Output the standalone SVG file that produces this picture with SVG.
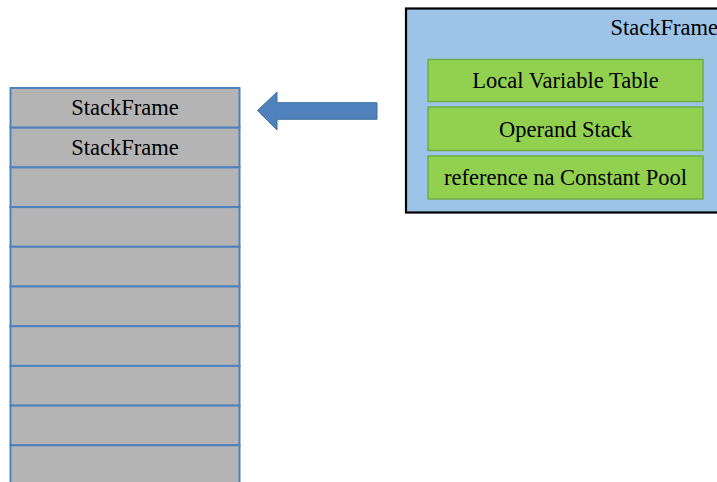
<svg xmlns="http://www.w3.org/2000/svg" width="717" height="482" viewBox="0 0 717 482">
<style>
.cell{fill:#b4b4b4;stroke:#4f81bd;stroke-width:2}
.t{font-size:22.5px;fill:#000;text-anchor:middle}
.g{fill:#92d050;stroke:#70ad47;stroke-width:1.5}
</style>
<rect width="717" height="482" fill="#fff"/>
<g id="stack">
<rect class="cell" x="10.5" y="88" width="229" height="39.7"/>
<rect class="cell" x="10.5" y="127.7" width="229" height="39.7"/>
<rect class="cell" x="10.5" y="167.4" width="229" height="39.7"/>
<rect class="cell" x="10.5" y="207.1" width="229" height="39.7"/>
<rect class="cell" x="10.5" y="246.8" width="229" height="39.7"/>
<rect class="cell" x="10.5" y="286.5" width="229" height="39.7"/>
<rect class="cell" x="10.5" y="326.2" width="229" height="39.7"/>
<rect class="cell" x="10.5" y="365.9" width="229" height="39.7"/>
<rect class="cell" x="10.5" y="405.6" width="229" height="39.7"/>
<rect class="cell" x="10.5" y="445.3" width="229" height="39.7"/>
<text class="t" x="125" y="115" font-family="Liberation Serif, serif">StackFrame</text>
<text class="t" x="125" y="155" font-family="Liberation Serif, serif">StackFrame</text>
</g>
<g id="connectors">
<path d="M377,102.7 L277,102.7 L277,92 L257.5,110.5 L277,130 L277,119.3 L377,119.3 Z" fill="#4f81bd" stroke="#41719c" stroke-width="1"/>
</g>
<g id="frame">
<rect x="406" y="8.5" width="320" height="204" fill="#9dc3e6" stroke="#000" stroke-width="2.2"/>
<text class="t" x="718" y="35" style="text-anchor:end" font-family="Liberation Serif, serif">StackFrame</text>
</g>
<g id="lvt">
<rect class="g" x="428" y="59.5" width="275" height="42"/>
<text class="t" x="565.5" y="88" font-family="Liberation Serif, serif">Local Variable Table</text>
</g>
<g id="os">
<rect class="g" x="428" y="107" width="275" height="43.5"/>
<text class="t" x="565.5" y="137" font-family="Liberation Serif, serif">Operand Stack</text>
</g>
<g id="ref">
<rect class="g" x="428" y="156" width="275" height="43"/>
<text class="t" x="565.5" y="185" font-family="Liberation Serif, serif">reference na Constant Pool</text>
</g>
</svg>
